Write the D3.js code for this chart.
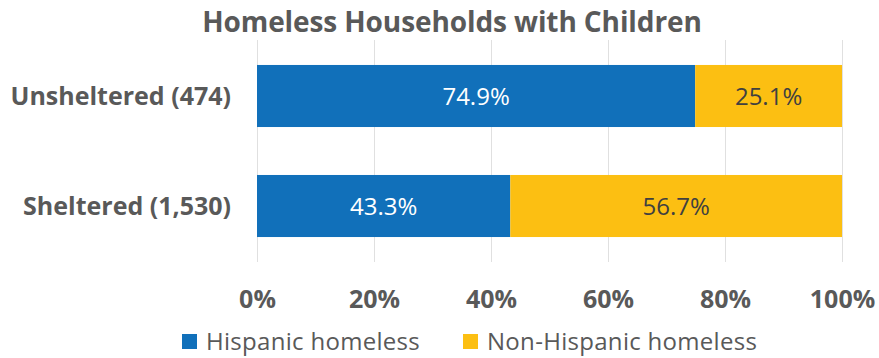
<!DOCTYPE html>
<html>
<head>
<meta charset="utf-8">
<script src="https://cdn.jsdelivr.net/npm/d3@7"></script>
<style>
  body { margin: 0; background: #fff; }
  text { font-family: "Open Sans", "Noto Sans", sans-serif; }
</style>
</head>
<body>
<div id="chart"></div>
<script>
// data
const categories = ["Unsheltered (474)", "Sheltered (1,530)"];
const seriesNames = ["Hispanic homeless", "Non-Hispanic homeless"];
const hispanic = [74.9, 43.3];
const nonHispanic = [25.1, 56.7];
const xTicks = [0, 20, 40, 60, 80, 100];

const width = 879, height = 358;
const colors = ["#1170BA", "#FCBF12"];
const labelColors = ["#ffffff", "#404040"];

const plot = { left: 257, right: 842, top: 40, bottom: 262 };

const svg = d3.select("#chart").append("svg")
  .attr("width", width)
  .attr("height", height);

const x = d3.scaleLinear().domain([0, 100]).range([plot.left, plot.right]);
const y = d3.scaleBand().domain(categories).range([plot.top, plot.bottom])
  .paddingInner(0.436).paddingOuter(0.227);

// title
svg.append("text")
  .attr("x", 452)
  .attr("y", 32)
  .attr("text-anchor", "middle")
  .attr("font-size", 28)
  .attr("font-weight", "bold")
  .attr("fill", "#595959")
  .attr("letter-spacing", -0.1)
  .text("Homeless Households with Children");

// gridlines
svg.append("g")
  .selectAll("line")
  .data(xTicks)
  .enter().append("line")
  .attr("x1", d => x(d) + 0.5)
  .attr("x2", d => x(d) + 0.5)
  .attr("y1", plot.top)
  .attr("y2", plot.bottom)
  .attr("stroke", "#e0e0e0")
  .attr("stroke-width", 1);

// stacked rows
const rows = categories.map((c, i) => ({ cat: c, vals: [hispanic[i], nonHispanic[i]] }));

rows.forEach(r => {
  let start = 0;
  r.vals.forEach((v, j) => {
    const g = svg.append("g");
    g.append("rect")
      .attr("x", x(start))
      .attr("y", y(r.cat))
      .attr("width", x(start + v) - x(start))
      .attr("height", y.bandwidth())
      .attr("fill", colors[j]);
    g.append("text")
      .attr("x", (x(start) + x(start + v)) / 2)
      .attr("y", y(r.cat) + y.bandwidth() / 2)
      .attr("dy", "0.36em")
      .attr("text-anchor", "middle")
      .attr("font-size", 24)
      .attr("fill", labelColors[j])
      .text(v.toFixed(1) + "%");
    start += v;
  });
});

// category labels
svg.append("g")
  .selectAll("text")
  .data(categories)
  .enter().append("text")
  .attr("x", 231)
  .attr("y", d => y(d) + y.bandwidth() / 2)
  .attr("dy", "0.36em")
  .attr("text-anchor", "end")
  .attr("font-size", 25)
  .attr("font-weight", "bold")
  .attr("fill", "#595959")
  .text(d => d);

// x axis
const xAxis = d3.axisBottom(x).tickValues(xTicks).tickFormat(d => d + "%").tickSize(0).tickPadding(0);
const ax = svg.append("g")
  .attr("transform", "translate(0,308)")
  .call(xAxis);
ax.select(".domain").remove();
ax.selectAll("text")
  .attr("dy", 0)
  .attr("y", 0)
  .attr("font-size", 25)
  .attr("font-weight", "bold")
  .attr("fill", "#595959")
  .attr("font-family", "\"Open Sans\", sans-serif");

// legend
const legendX = [182, 463];
const legend = svg.append("g");
seriesNames.forEach((s, i) => {
  legend.append("rect")
    .attr("x", legendX[i])
    .attr("y", 334)
    .attr("width", 15)
    .attr("height", 15)
    .attr("fill", colors[i]);
  legend.append("text")
    .attr("x", legendX[i] + 24)
    .attr("y", 341)
    .attr("dy", "0.36em")
    .attr("font-size", 24)
    .attr("letter-spacing", 0.3)
    .attr("fill", "#595959")
    .text(s);
});
</script>
</body>
</html>
